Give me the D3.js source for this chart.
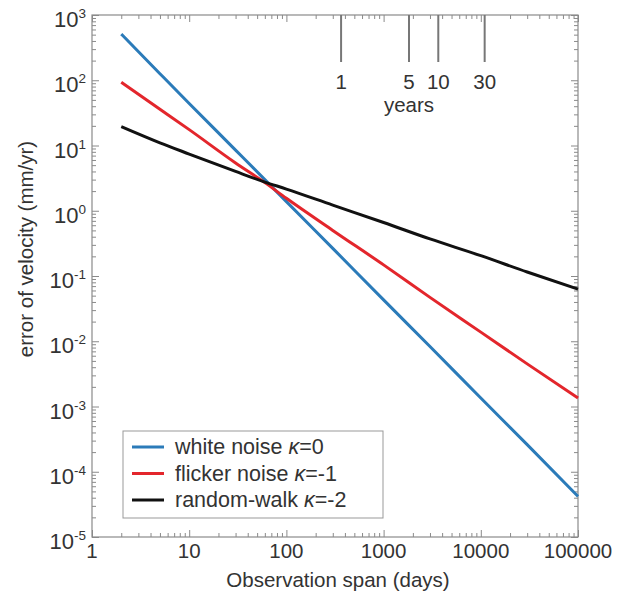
<!DOCTYPE html>
<html>
<head>
<meta charset="utf-8">
<script src="https://cdnjs.cloudflare.com/ajax/libs/d3/7.8.5/d3.min.js"></script>
<style>
  body { margin: 0; background: #fff; }
  text { font-family: 'Liberation Sans', Arial, sans-serif; fill: #333; }
</style>
</head>
<body>
<div class="chart"></div>
<script>
///////////// DATA //////////////////////////////
var days = [2, 5, 10, 30, 60, 100, 300, 1000, 3000, 10000, 30000, 100000];
var whiteNoise = [510, 126, 44, 8.5, 3.0, 1.38, 0.265, 0.043, 0.0083, 0.00135, 0.00026, 0.000042];
var flickerNoise = [93, 36, 17.5, 5.4, 2.7, 1.55, 0.5, 0.148, 0.047, 0.0138, 0.0045, 0.00135];
var randomWalk = [19.5, 11, 7.4, 4.0, 2.75, 2.15, 1.22, 0.66, 0.37, 0.205, 0.115, 0.063];

var seriesNames = ['white noise', 'flicker noise', 'random-walk'];
var kappas = ['0', '-1', '-2'];
var seriesColors = ['#2b7bb9', '#e3262c', '#111111'];

var xTicks = [1, 10, 100, 1000, 10000, 100000];
var yExponents = [3, 2, 1, 0, -1, -2, -3, -4, -5];
var yearMarks = [1, 5, 10, 30];

var margin = { top: 15, right: 42, bottom: 64, left: 92 };
var width = 620 - margin.left - margin.right;
var height = 601 - margin.top - margin.bottom;

var svg = d3.select('.chart')
  .append('svg')
  .attr('width', 620)
  .attr('height', 601)
  .append('g')
  .attr('transform', 'translate(' + margin.left + ',' + margin.top + ')');

var xScale = d3.scaleLog().domain([1, 100000]).range([0, width]);
var yScale = d3.scaleLog().domain([1e-5, 1e3]).range([height, 0]);

var axisColor = '#8a8a8a';

//////////// MINOR + MAJOR TICKS ON ALL FOUR SIDES, POINTING IN ////////////
function minorTicks(scale) {
  return scale.ticks().filter(function (t) {
    var l = Math.log10(t);
    return Math.abs(l - Math.round(l)) > 1e-6;
  });
}
function majorTicks(scale) {
  return scale.ticks().filter(function (t) {
    var l = Math.log10(t);
    return Math.abs(l - Math.round(l)) < 1e-6;
  });
}

function addAxis(axisFn, scale, transform) {
  svg.append('g')
    .attr('transform', transform)
    .call(axisFn(scale).tickValues(minorTicks(scale)).tickSize(-4).tickFormat(''))
    .call(function (g) { g.select('.domain').remove(); });
  svg.append('g')
    .attr('transform', transform)
    .call(axisFn(scale).tickValues(majorTicks(scale)).tickSize(-7).tickFormat(''))
    .call(function (g) { g.select('.domain').remove(); });
}
addAxis(d3.axisBottom, xScale, 'translate(0,' + height + ')');
addAxis(d3.axisTop, xScale, 'translate(0,0)');
addAxis(d3.axisLeft, yScale, 'translate(0,0)');
addAxis(d3.axisRight, yScale, 'translate(' + width + ',0)');

svg.selectAll('.tick line').style('stroke', axisColor).style('stroke-width', 1);

svg.append('rect')
  .attr('width', width)
  .attr('height', height)
  .style('fill', 'none')
  .style('stroke', axisColor)
  .style('stroke-width', 1.2);

//////////// TICK LABELS ////////////
svg.selectAll('.xlab')
  .data(xTicks)
  .enter()
  .append('text')
  .attr('class', 'xlab')
  .attr('x', function (d) { return xScale(d); })
  .attr('y', height + 21)
  .style('text-anchor', 'middle')
  .style('font-size', '20.5px')
  .text(function (d) { return d; });

var ylab = svg.selectAll('.ylab')
  .data(yExponents)
  .enter()
  .append('text')
  .attr('class', 'ylab')
  .attr('x', -6)
  .attr('y', function (d) { return yScale(Math.pow(10, d)) + 12; })
  .style('text-anchor', 'end')
  .style('font-size', '22px');
ylab.append('tspan').text('10');
ylab.append('tspan')
  .attr('dy', -9)
  .style('font-size', '13.5px')
  .text(function (d) { return d; });

//////////// AXIS TITLES ////////////
svg.append('text')
  .attr('x', width / 2 + 3)
  .attr('y', height + 50)
  .style('text-anchor', 'middle')
  .style('font-size', '20.5px')
  .text('Observation span (days)');

svg.append('text')
  .attr('transform', 'translate(' + (-59) + ',' + (234) + ') rotate(-90)')
  .style('text-anchor', 'middle')
  .style('font-size', '20.5px')
  .text('error of velocity (mm/yr)');

//////////// YEAR MARKERS ////////////
svg.selectAll('.yearline')
  .data(yearMarks)
  .enter()
  .append('line')
  .attr('class', 'yearline')
  .attr('x1', function (d) { return xScale(d * 365.25); })
  .attr('x2', function (d) { return xScale(d * 365.25); })
  .attr('y1', 0)
  .attr('y2', 47)
  .style('stroke', '#777')
  .style('stroke-width', 2);

svg.selectAll('.yearlab')
  .data(yearMarks)
  .enter()
  .append('text')
  .attr('class', 'yearlab')
  .attr('x', function (d) { return xScale(d * 365.25); })
  .attr('y', 74)
  .style('text-anchor', 'middle')
  .style('font-size', '20.5px')
  .text(function (d) { return d; });

svg.append('text')
  .attr('x', xScale(5 * 365.25))
  .attr('y', 97)
  .style('text-anchor', 'middle')
  .style('font-size', '20.5px')
  .text('years');

//////////// CURVES ////////////
var allSeries = [whiteNoise, flickerNoise, randomWalk];

var line = d3.line()
  .x(function (d, i) { return xScale(days[i]); })
  .y(function (d) { return yScale(d); })
  .curve(d3.curveMonotoneX);

svg.selectAll('.line')
  .data(allSeries)
  .enter()
  .append('path')
  .attr('class', 'line')
  .attr('d', function (d) { return line(d); })
  .style('stroke', function (d, i) { return seriesColors[i]; })
  .style('stroke-width', 3)
  .style('fill', 'none')
  .style('stroke-linejoin', 'round');

//////////// LEGEND ////////////
var legend = svg.append('g')
  .attr('transform', 'translate(' + (123 - margin.left) + ',' + (431 - margin.top) + ')');

legend.append('rect')
  .attr('width', 260)
  .attr('height', 87)
  .style('fill', '#fff')
  .style('stroke', '#999')
  .style('stroke-width', 1);

var rows = legend.selectAll('.leg')
  .data(seriesNames)
  .enter()
  .append('g')
  .attr('class', 'leg')
  .attr('transform', function (d, i) { return 'translate(0,' + (16 + i * 26.5) + ')'; });

rows.append('line')
  .attr('x1', 9)
  .attr('x2', 41)
  .style('stroke', function (d, i) { return seriesColors[i]; })
  .style('stroke-width', 3);

var legText = rows.append('text')
  .attr('x', 52)
  .attr('y', 7)
  .style('font-size', '21.5px');
legText.append('tspan').text(function (d) { return d + ' '; });
legText.append('tspan').style('font-style', 'italic').text('κ');
legText.append('tspan').text(function (d, i) { return '=' + kappas[i]; });
</script>
</body>
</html>
